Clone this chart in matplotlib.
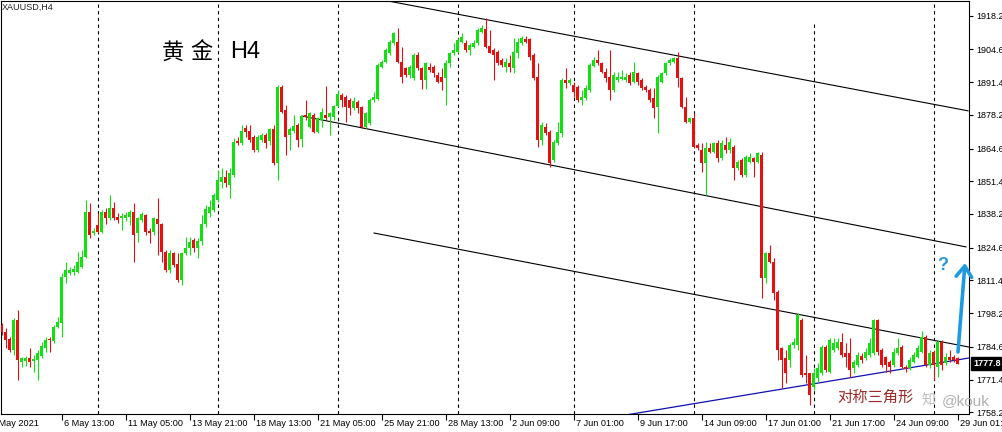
import matplotlib
matplotlib.use("Agg")
import matplotlib.pyplot as plt
import matplotlib.transforms as mtransforms
import numpy as np

# XAUUSD H4 candles, 4 May 01:00 .. 29 Jun 01:00 (bar index = position on chart)
opens = [
    1793.4, 1790.7, 1787.7, 1783.3, 1795.4, 1778.6, 1778.9, 1780.2, 1778.9, 1779.3,
    1781.0, 1784.1, 1787.7, 1786.9, 1792.7, 1794.1, 1812.9, 1814.4, 1814.8, 1814.9,
    1816.9, 1820.9, 1839.1, 1830.5, 1833.7, 1831.0, 1839.1, 1836.7, 1840.7, 1837.1,
    1836.4, 1836.4, 1837.1, 1839.1, 1830.4, 1835.8, 1837.8, 1831.3, 1831.0, 1836.2,
    1834.0, 1823.0, 1815.6, 1822.4, 1818.0, 1811.5, 1822.4, 1824.5, 1827.7, 1824.3,
    1827.4, 1834.1, 1838.6, 1839.8, 1843.8, 1851.2, 1853.2, 1849.9, 1853.9, 1867.7,
    1866.9, 1872.9, 1871.8, 1869.4, 1864.0, 1868.0, 1870.0, 1867.7, 1872.3, 1858.9,
    1889.5, 1880.1, 1870.0, 1871.8, 1874.1, 1868.3, 1878.1, 1873.4, 1878.1, 1871.4,
    1876.1, 1878.1, 1877.4, 1877.4, 1881.7, 1886.2, 1885.5, 1884.2, 1880.8, 1883.5,
    1881.5, 1873.4, 1874.8, 1884.2, 1884.4, 1897.6, 1899.6, 1903.0, 1907.0, 1907.7,
    1899.6, 1896.9, 1894.2, 1892.9, 1902.3, 1896.9, 1892.2, 1897.6, 1897.6, 1894.2,
    1893.6, 1892.9, 1899.0, 1903.0, 1903.6, 1907.7, 1907.0, 1904.3, 1905.7, 1907.0,
    1911.7, 1912.7, 1905.9, 1904.3, 1903.6, 1900.3, 1897.6, 1899.0, 1896.9, 1903.0,
    1907.3, 1908.6, 1908.6, 1902.3, 1893.6, 1868.0, 1873.4, 1871.4, 1860.0, 1866.7,
    1870.7, 1892.2, 1891.1, 1890.2, 1889.5, 1884.2, 1884.8, 1888.2, 1897.9, 1900.3,
    1899.0, 1895.6, 1893.6, 1888.2, 1892.2, 1892.5, 1892.2, 1894.2, 1891.5, 1894.9,
    1892.2, 1889.5, 1888.2, 1884.8, 1881.5, 1891.5, 1894.9, 1899.0, 1899.6, 1901.0,
    1892.9, 1881.5, 1875.4, 1876.8, 1866.0, 1864.0, 1858.6, 1864.7, 1863.3, 1866.7,
    1860.6, 1866.0, 1864.0, 1865.3, 1856.6, 1860.0, 1853.9, 1859.3, 1860.6, 1859.3,
    1862.0, 1812.2, 1822.3, 1818.9, 1806.8, 1784.0, 1780.1, 1779.3, 1785.3, 1785.3,
    1795.4, 1773.9, 1773.9, 1768.4, 1772.0, 1774.0, 1784.6, 1774.6, 1783.3, 1784.0,
    1786.7, 1782.0, 1782.0, 1775.9, 1777.3, 1780.9, 1780.0, 1781.3, 1782.0, 1795.4,
    1783.3, 1780.6, 1778.6, 1777.3, 1782.0, 1784.6, 1776.6, 1776.0, 1778.6, 1780.6,
    1782.6, 1788.7, 1777.3, 1782.6, 1776.6, 1786.7, 1777.9, 1780.6, 1780.6, 1780.0,
]
highs = [
    1794.2, 1792.3, 1788.7, 1796.2, 1799.4, 1780.6, 1780.9, 1784.1, 1781.3, 1783.3,
    1786.7, 1788.7, 1788.7, 1793.4, 1796.7, 1814.4, 1818.9, 1816.9, 1817.6, 1823.0,
    1823.6, 1843.8, 1842.6, 1832.4, 1838.6, 1839.8, 1840.7, 1845.8, 1843.1, 1838.5,
    1838.5, 1838.9, 1839.8, 1842.6, 1837.1, 1839.1, 1838.1, 1832.4, 1837.1, 1844.6,
    1834.5, 1823.6, 1823.6, 1823.0, 1822.3, 1823.0, 1829.0, 1829.0, 1828.4, 1828.5,
    1837.8, 1841.8, 1843.8, 1846.8, 1855.9, 1856.6, 1855.9, 1856.6, 1868.7, 1869.1,
    1874.1, 1874.1, 1874.1, 1870.0, 1870.0, 1870.7, 1870.8, 1872.9, 1874.1, 1890.2,
    1890.2, 1882.1, 1873.4, 1878.1, 1874.9, 1878.1, 1884.2, 1879.4, 1878.9, 1877.4,
    1880.9, 1889.8, 1879.4, 1882.1, 1888.2, 1887.0, 1886.2, 1885.0, 1885.5, 1884.2,
    1881.7, 1879.4, 1885.0, 1887.5, 1899.1, 1900.3, 1905.1, 1908.4, 1911.7, 1913.1,
    1905.7, 1897.6, 1898.3, 1903.1, 1903.6, 1897.6, 1899.6, 1899.0, 1898.3, 1895.6,
    1896.9, 1900.3, 1903.6, 1907.0, 1909.0, 1911.1, 1908.4, 1907.3, 1908.4, 1913.1,
    1914.4, 1917.1, 1912.4, 1905.1, 1904.3, 1901.1, 1901.0, 1902.3, 1909.0, 1909.0,
    1910.0, 1910.0, 1909.0, 1903.0, 1899.0, 1875.4, 1874.8, 1872.1, 1868.0, 1875.4,
    1892.9, 1896.9, 1892.9, 1891.5, 1890.2, 1888.2, 1890.2, 1899.0, 1901.6, 1904.3,
    1899.6, 1896.9, 1904.3, 1895.6, 1895.6, 1896.3, 1894.9, 1895.6, 1899.6, 1895.6,
    1892.9, 1890.2, 1888.9, 1888.9, 1894.2, 1895.6, 1899.6, 1901.0, 1901.6, 1903.6,
    1893.6, 1885.5, 1877.4, 1878.8, 1866.7, 1866.7, 1867.3, 1866.7, 1867.3, 1868.0,
    1868.0, 1869.4, 1868.7, 1866.0, 1860.0, 1860.6, 1862.0, 1862.7, 1861.3, 1863.3,
    1863.3, 1823.0, 1825.7, 1820.4, 1807.5, 1784.6, 1783.3, 1786.0, 1788.0, 1798.1,
    1796.1, 1781.3, 1773.9, 1776.0, 1777.9, 1785.3, 1785.3, 1788.0, 1788.0, 1788.0,
    1790.0, 1786.0, 1788.0, 1779.3, 1782.6, 1782.0, 1784.0, 1788.0, 1795.8, 1795.8,
    1784.0, 1780.9, 1779.3, 1784.0, 1788.0, 1785.3, 1777.3, 1780.6, 1782.6, 1785.3,
    1791.1, 1789.4, 1783.3, 1783.3, 1787.3, 1787.3, 1782.0, 1783.3, 1781.3, 1780.6,
]
lows = [
    1789.4, 1784.1, 1782.6, 1781.3, 1771.2, 1776.6, 1776.9, 1776.6, 1774.4, 1771.2,
    1780.1, 1782.6, 1782.6, 1786.0, 1792.2, 1788.7, 1810.3, 1813.6, 1813.6, 1814.4,
    1816.4, 1820.4, 1828.5, 1829.7, 1830.5, 1830.4, 1834.0, 1835.8, 1835.8, 1834.4,
    1831.7, 1835.3, 1833.7, 1818.9, 1827.0, 1835.1, 1829.7, 1826.4, 1829.7, 1821.6,
    1818.9, 1814.9, 1814.4, 1816.9, 1810.9, 1809.5, 1821.6, 1821.6, 1823.0, 1820.4,
    1825.7, 1833.0, 1837.1, 1839.1, 1843.1, 1848.5, 1849.2, 1844.5, 1853.2, 1866.0,
    1866.0, 1869.4, 1867.3, 1863.3, 1863.2, 1867.3, 1864.8, 1866.0, 1857.9, 1851.9,
    1878.9, 1862.0, 1864.0, 1870.8, 1865.3, 1865.3, 1876.1, 1872.9, 1870.8, 1870.8,
    1873.4, 1876.1, 1870.0, 1876.1, 1881.5, 1881.5, 1875.4, 1878.1, 1880.1, 1878.9,
    1872.9, 1872.9, 1874.1, 1883.5, 1884.2, 1897.1, 1899.1, 1902.3, 1906.3, 1899.0,
    1890.9, 1893.6, 1893.0, 1892.2, 1896.3, 1888.5, 1888.5, 1895.6, 1893.6, 1890.9,
    1888.2, 1882.1, 1897.6, 1902.3, 1903.0, 1907.0, 1903.6, 1902.3, 1905.0, 1906.3,
    1911.1, 1905.0, 1903.0, 1892.2, 1898.3, 1897.6, 1895.6, 1895.6, 1894.9, 1901.0,
    1906.3, 1907.0, 1900.3, 1892.2, 1865.3, 1866.0, 1870.0, 1857.3, 1859.3, 1866.0,
    1869.4, 1888.9, 1890.2, 1885.5, 1883.5, 1882.1, 1884.2, 1887.5, 1897.6, 1898.3,
    1894.9, 1891.5, 1884.2, 1887.5, 1891.5, 1892.2, 1891.5, 1890.2, 1890.9, 1890.2,
    1888.2, 1887.5, 1883.5, 1876.8, 1870.7, 1890.9, 1894.2, 1898.3, 1899.0, 1889.5,
    1880.8, 1874.8, 1874.8, 1864.7, 1864.0, 1855.2, 1845.8, 1862.7, 1862.7, 1859.3,
    1860.0, 1862.7, 1862.7, 1851.9, 1855.9, 1853.2, 1853.2, 1858.6, 1853.2, 1858.6,
    1804.2, 1810.2, 1818.3, 1803.5, 1779.3, 1767.9, 1769.9, 1776.6, 1784.0, 1783.3,
    1772.5, 1769.9, 1761.1, 1767.2, 1770.5, 1773.2, 1774.6, 1773.9, 1782.6, 1783.3,
    1780.6, 1776.6, 1772.5, 1773.9, 1776.6, 1777.9, 1779.3, 1780.6, 1781.3, 1781.3,
    1776.6, 1774.6, 1773.9, 1776.6, 1781.3, 1775.9, 1774.6, 1775.2, 1777.9, 1780.0,
    1782.0, 1776.6, 1775.9, 1771.2, 1772.5, 1775.2, 1777.3, 1778.6, 1778.6, 1777.5,
]
closes = [
    1790.7, 1787.3, 1783.3, 1795.4, 1779.3, 1780.0, 1780.2, 1778.6, 1779.7, 1782.1,
    1785.0, 1787.3, 1787.2, 1792.7, 1794.6, 1812.9, 1815.6, 1815.6, 1816.0, 1818.8,
    1820.9, 1839.1, 1829.7, 1831.3, 1831.0, 1839.1, 1836.4, 1840.7, 1836.7, 1835.8,
    1837.4, 1837.8, 1839.1, 1829.7, 1836.4, 1838.1, 1831.0, 1830.4, 1836.4, 1834.0,
    1823.0, 1815.6, 1822.4, 1817.6, 1811.5, 1822.4, 1824.5, 1827.0, 1824.5, 1827.4,
    1834.1, 1840.2, 1841.1, 1845.8, 1851.9, 1853.2, 1850.6, 1854.7, 1867.3, 1866.7,
    1871.8, 1871.4, 1868.0, 1864.0, 1869.4, 1870.0, 1866.7, 1872.3, 1858.6, 1889.3,
    1879.4, 1869.4, 1872.3, 1873.7, 1868.0, 1877.7, 1877.2, 1878.9, 1871.4, 1876.9,
    1879.4, 1876.8, 1878.9, 1881.7, 1886.6, 1884.2, 1881.5, 1880.8, 1883.8, 1880.8,
    1873.4, 1878.9, 1884.2, 1885.5, 1898.3, 1899.6, 1904.3, 1907.7, 1911.1, 1899.6,
    1893.6, 1894.2, 1897.6, 1902.3, 1896.9, 1892.2, 1899.0, 1896.3, 1894.9, 1891.5,
    1891.5, 1899.0, 1903.0, 1904.3, 1908.4, 1909.7, 1904.3, 1906.3, 1907.3, 1912.4,
    1913.1, 1905.7, 1903.2, 1902.3, 1899.0, 1898.3, 1899.6, 1897.6, 1903.6, 1907.7,
    1909.0, 1907.7, 1901.6, 1892.9, 1868.0, 1874.1, 1870.7, 1858.6, 1867.3, 1871.4,
    1892.2, 1890.9, 1892.2, 1887.5, 1884.2, 1885.5, 1888.9, 1898.3, 1900.3, 1899.0,
    1895.6, 1892.9, 1888.2, 1894.2, 1893.6, 1893.6, 1893.6, 1890.9, 1895.6, 1891.5,
    1888.9, 1888.2, 1884.2, 1880.8, 1893.6, 1894.9, 1899.0, 1900.3, 1901.0, 1892.9,
    1881.5, 1875.4, 1876.8, 1865.3, 1864.7, 1858.6, 1864.7, 1863.3, 1866.7, 1860.6,
    1866.7, 1864.0, 1867.3, 1856.6, 1859.3, 1853.9, 1861.3, 1861.3, 1859.3, 1862.7,
    1812.2, 1822.3, 1818.9, 1806.2, 1783.3, 1779.3, 1773.9, 1785.3, 1786.7, 1797.4,
    1773.2, 1773.2, 1765.2, 1773.9, 1776.0, 1784.6, 1775.2, 1787.3, 1786.0, 1786.7,
    1781.3, 1780.6, 1775.2, 1778.6, 1781.3, 1779.3, 1782.6, 1786.0, 1795.4, 1782.6,
    1777.3, 1777.3, 1776.6, 1782.6, 1784.0, 1776.6, 1775.6, 1779.3, 1781.3, 1784.0,
    1788.7, 1777.3, 1782.0, 1777.3, 1786.7, 1777.3, 1780.6, 1779.3, 1779.3, 1777.8,
]

# Monday 01:00 bars (period separators)
week_starts = [24, 54, 84, 114, 143, 173, 203, 233]

time_ticks = [0, 15, 31, 47, 63, 79, 95, 111, 127, 143, 159, 175, 191, 207, 223, 239]
time_labels = ["4 May 2021", "6 May 13:00", "11 May 05:00", "13 May 21:00",
               "18 May 13:00", "21 May 05:00", "25 May 21:00", "28 May 13:00",
               "2 Jun 09:00", "7 Jun 01:00", "9 Jun 17:00", "14 Jun 09:00",
               "17 Jun 01:00", "21 Jun 17:00", "24 Jun 09:00", "29 Jun 01:00"]

price_ticks = [1918.2, 1904.6, 1891.4, 1878.2, 1864.6, 1851.4, 1838.2,
               1824.6, 1811.4, 1798.2, 1784.6, 1771.4, 1758.2]

# hand-drawn trend lines: (bar, price) endpoints
channel_top = [(96.5, 1924.1), (241.5, 1879.8)]
channel_mid = [(75.0, 1877.7), (241.0, 1824.9)]
channel_low = [(93.0, 1830.5), (241.75, 1784.5)]
support_line = [(150.0, 1755.5), (241.75, 1780.1)]
forecast_arrow = [(239.0, 1782.5), (240.75, 1818.4)]

BULL = "#12e012"
BEAR = "#e31212"
ARROW_BLUE = "#1e9be0"

plt.rcParams["font.family"] = ["Liberation Sans", "DejaVu Sans"]

W, H = 1003, 432
fig = plt.figure(figsize=(W / 100, H / 100), dpi=100)
fig.patch.set_facecolor("white")
ax = fig.add_axes([1 / W, 18 / H, 968 / W, 413 / H])
ax.set_xlim(-0.25, 241.75)
ax.set_ylim(1757.5, 1924.1)

o = np.array(opens)
h = np.array(highs)
l = np.array(lows)
c = np.array(closes)
idx = np.arange(len(o))
cols = np.where(c >= o, BULL, BEAR)

# candles
ax.vlines(idx, l, h, colors=cols, lw=0.8, zorder=3)
body_lo = np.minimum(o, c)
body_h = np.maximum(np.abs(c - o), 0.4)
ax.bar(idx, body_h, bottom=body_lo, width=0.75, color=cols, linewidth=0, zorder=4)

# weekly separators
for k in week_starts:
    top = 0.949 if k == 203 else 1.0
    ax.axvline(k, ymax=top, color="black", lw=0.8, ls=(0, (3, 3)), zorder=1)

# trend lines
for seg in (channel_top, channel_mid, channel_low):
    (x0, y0), (x1, y1) = seg
    ax.plot([x0, x1], [y0, y1], color="black", lw=0.8, zorder=2)
(x0, y0), (x1, y1) = support_line
ax.plot([x0, x1], [y0, y1], color="#1010b0", lw=0.9, zorder=2)

# arrow + question mark
(x0, y0), (x1, y1) = forecast_arrow
ax.annotate("", xy=(x1, y1), xytext=(x0, y0), annotation_clip=False,
            arrowprops=dict(arrowstyle="->,head_length=0.55,head_width=0.4",
                            color=ARROW_BLUE, lw=2.6, shrinkA=0, shrinkB=0,
                            mutation_scale=14), zorder=6)
fig.text(943 / W, 1 - 265 / H, "?", color="#2a97d6", fontsize=13,
         fontweight="bold", ha="center", va="center")

# axes styling
for sp in ax.spines.values():
    sp.set_color("black")
    sp.set_linewidth(0.8)
ax.yaxis.tick_right()
ax.set_yticks(price_ticks)
ax.set_yticklabels([f"{v:.1f}" for v in price_ticks])
ax.tick_params(axis="y", length=3, width=0.8, pad=2, labelsize=6.5, colors="black")
ax.set_xticks(time_ticks[1:])
ax.set_xticklabels([])
ax.tick_params(axis="x", length=4, width=0.8, direction="out")

xtrans = ax.get_xaxis_transform()
for k, lab in zip(time_ticks, time_labels):
    shift = -2.7 if k == 0 else 0.5
    ax.text(k + shift, -0.012, lab, transform=xtrans, ha="left", va="top",
            fontsize=6.6, color="black", clip_on=False)

# last price tag
btrans = mtransforms.blended_transform_factory(ax.transAxes, ax.transData)
ax.text(1.0 + 4 / 968, closes[-1], f"{closes[-1]:.1f}", transform=btrans,
        color="white", fontsize=6.5, fontweight="bold", ha="left", va="center",
        bbox=dict(boxstyle="square,pad=0.25", fc="black", ec="black"), clip_on=False)

# labels on chart
fig.text(2 / W, 1 - 7 / H, "XAUUSD,H4", fontsize=6.5, color="#222222",
         ha="left", va="center")
fig.text(162 / W, 1 - 52 / H, "黄", fontsize=16, family=["Noto Sans CJK SC"],
         ha="left", va="center")
fig.text(190 / W, 1 - 52 / H, "金", fontsize=16, family=["Noto Sans CJK SC"],
         ha="left", va="center")
fig.text(230 / W, 1 - 52 / H, "H4", fontsize=17, ha="left", va="center")
fig.text(837 / W, 1 - 397 / H, "对称三角形", fontsize=11, color="#9b2a2a",
         family=["Noto Sans CJK SC"], ha="left", va="center")
fig.text(922 / W, 1 - 401 / H, "知", fontsize=10, color="#bdbdbd",
         family=["Noto Sans CJK SC"], ha="left", va="center")
fig.text(942 / W, 1 - 401 / H, "@kouk", fontsize=11, color="#b0b0b0",
         ha="left", va="center")

fig.savefig("out.png", dpi=100, facecolor="white")
